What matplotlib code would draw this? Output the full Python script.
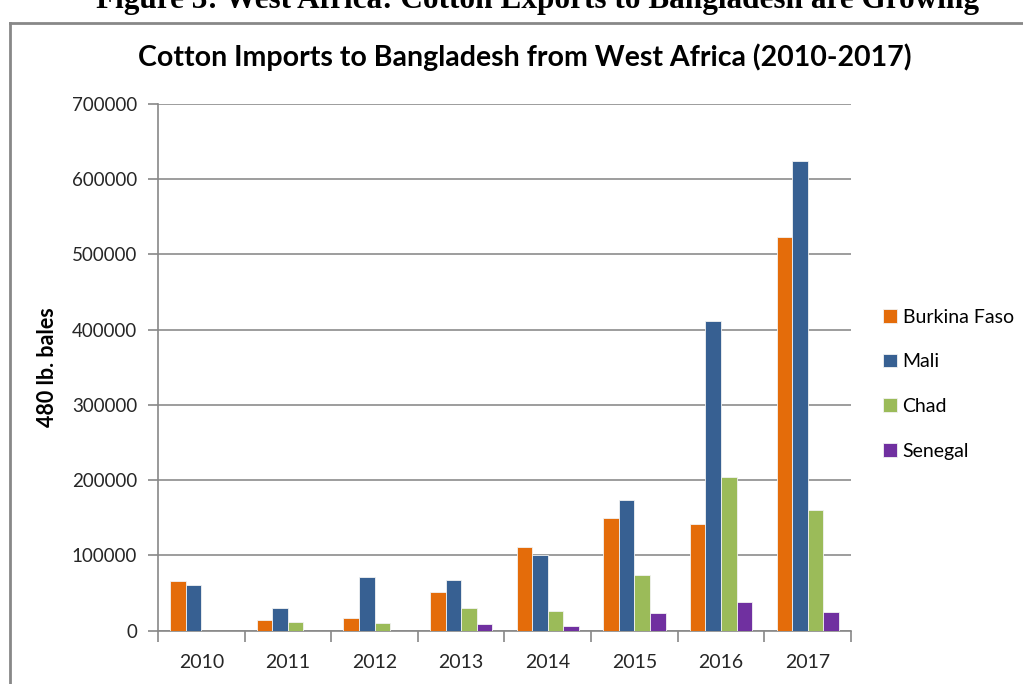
import matplotlib.pyplot as plt
import numpy as np
from matplotlib.lines import Line2D

# data
years = ['2010', '2011', '2012', '2013', '2014', '2015', '2016', '2017']
burkina = [66000, 14000, 16500, 51000, 111000, 149000, 141000, 523000]
mali = [61000, 29500, 70500, 67000, 100000, 173000, 411000, 624000]
chad = [0, 11500, 10500, 29500, 26000, 73500, 204500, 160500]
senegal = [0, 0, 0, 8500, 5500, 23000, 37500, 24500]

series = [('Burkina Faso', burkina, '#E46C0A'),
          ('Mali', mali, '#376092'),
          ('Chad', chad, '#9BBB59'),
          ('Senegal', senegal, '#7030A0')]

plt.rcParams['font.family'] = ['Lato', 'DejaVu Sans']

fig = plt.figure(figsize=(10.23, 6.84), dpi=100)
ax = fig.add_axes([0.1544, 0.0782, 0.6775, 0.7698])

x = np.arange(len(years))
w = 0.18
for i, (name, vals, col) in enumerate(series):
    ax.bar(x + (i - 1.5) * w, vals, width=w, color=col, label=name,
           edgecolor='#f2f2f2', linewidth=0.6, zorder=3)

ax.set_xlim(-0.5, len(years) - 0.5)
ax.set_ylim(0, 700000)
ax.set_yticks(np.arange(0, 700001, 100000))
ax.set_yticklabels([str(v) for v in range(0, 700001, 100000)], fontsize=13.5, color='#262626')
ax.set_xticks(x)
ax.set_xticklabels(years, fontsize=14, color='#262626')
ax.tick_params(axis='x', length=0, pad=17)
ax.set_xticks(np.arange(-0.5, len(years)), minor=True)
ax.tick_params(axis='x', which='minor', length=8, color='#888888', width=1.2)
ax.tick_params(axis='y', length=7, color='#888888', width=1.2, pad=8)
ax.grid(axis='y', color='#8c8c8c', linewidth=1.2, zorder=0)
for s in ['top', 'right']:
    ax.spines[s].set_visible(False)
for s in ['left', 'bottom']:
    ax.spines[s].set_color('#888888')
    ax.spines[s].set_linewidth(1.2)

ax.set_ylabel('480 lb. bales', fontsize=15.5, fontweight='bold', labelpad=10)

fig.text(0.513, 0.917, 'Cotton Imports to Bangladesh from West Africa (2010-2017)',
         ha='center', va='center', fontsize=20.5, fontweight='bold')

# clipped caption above the chart frame
fig.text(0.525, 1 - 8 / 684, 'Figure 3: West Africa: Cotton Exports to Bangladesh are Growing',
         ha='center', va='baseline', fontsize=22.5, fontweight='bold', family='Liberation Serif')

# chart frame (left and top edges visible)
fig.add_artist(Line2D([10 / 1023, 10 / 1023], [0, 1 - 23 / 684], transform=fig.transFigure,
                      color='#888888', linewidth=2))
fig.add_artist(Line2D([10 / 1023, 1], [1 - 23 / 684, 1 - 23 / 684], transform=fig.transFigure,
                      color='#888888', linewidth=2))

ax.legend(loc='center left', bbox_to_anchor=(1.021, 0.468), frameon=False, fontsize=14,
          handlelength=0.7, handleheight=0.7, handletextpad=0.3, labelspacing=1.42)

fig.savefig('out.png', dpi=100)
